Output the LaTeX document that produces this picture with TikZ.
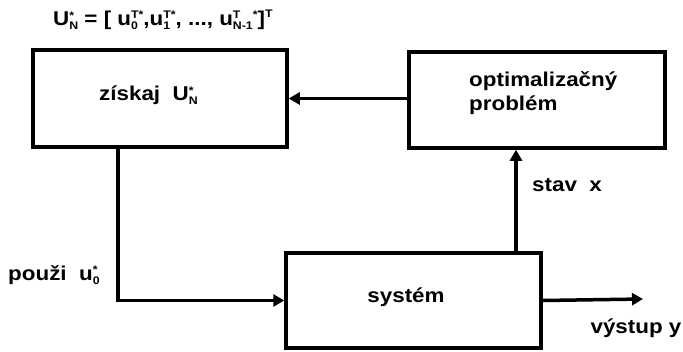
\documentclass[tikz,border=0pt]{standalone}
\usepackage{fontspec}
\setmainfont{Liberation Sans}[FakeStretch=1.12]
\usetikzlibrary{arrows.meta}
% sup wider than sub: sub overlapped
\newcommand\sscA[3][7]{{\fontsize{11}{11}\selectfont\makebox[0pt][l]{\raisebox{-4pt}{#3}}\raisebox{#1pt}{#2}}}
% sub wider than sup: sup overlapped
\newcommand\sscB[3][7]{{\fontsize{11}{11}\selectfont\makebox[0pt][l]{\raisebox{#1pt}{#2}}\raisebox{-4pt}{#3}}}
\tikzset{
  blk/.style={draw, line width=3.5pt, rectangle, inner sep=0pt},
  lbl/.style={font=\fontsize{20}{24}\selectfont\bfseries, inner sep=0pt},
  arr/.style={line width=3.5pt, -{Triangle[length=11pt,width=12pt]}},
}
\begin{document}
\begin{tikzpicture}[x=1pt,y=-1pt]
\useasboundingbox (0,0) rectangle (683,351);
\node[blk, minimum width=254pt, minimum height=97pt] (sk) at (160,98.5) {};
\node[blk, minimum width=256pt, minimum height=96pt] (op) at (537,100) {};
\node[blk, minimum width=255pt, minimum height=95pt] (sy) at (413.5,300.5) {};
\node[lbl, anchor=west] (skt) at (99,95) {získaj\ \ U\sscB[6]{*}{N}};
\node[lbl, align=left, anchor=north west] (opt) at (469,71) {optimalizačný\\problém};
\node[lbl] (syt) at (406,297) {systém};
\node[lbl, anchor=west, font=\fontsize{20}{24}\selectfont\bfseries] (form) at (53,20) {U\sscB[6]{*}{N} = [ u\sscA{T*}{0},u\sscA{T*}{1}, ..., u\sscB{T}{N-1}\raisebox{7pt}{\fontsize{11}{11}\selectfont *}]\raisebox{8pt}{\fontsize{11}{11}\selectfont T}};
\node[lbl] (stav) at (567,185) {stav\ \ x};
\node[lbl, anchor=west] (pouzi) at (8,275) {použi\ \ u\sscB{*}{0}};
\node[lbl] (vys) at (636,328) {výstup y};
\coordinate (out) at (643,299);
\draw[arr] (sk.east -| op.west) -- (sk.east);
\draw[arr] ([xshift=-42pt]sk.south) |- (sy.west);
\draw[arr] ([xshift=102.5pt]sy.north) -- ([xshift=102.5pt]sy.north |- op.south);
\draw[arr] (sy.east) -- (out);
\end{tikzpicture}
\end{document}
